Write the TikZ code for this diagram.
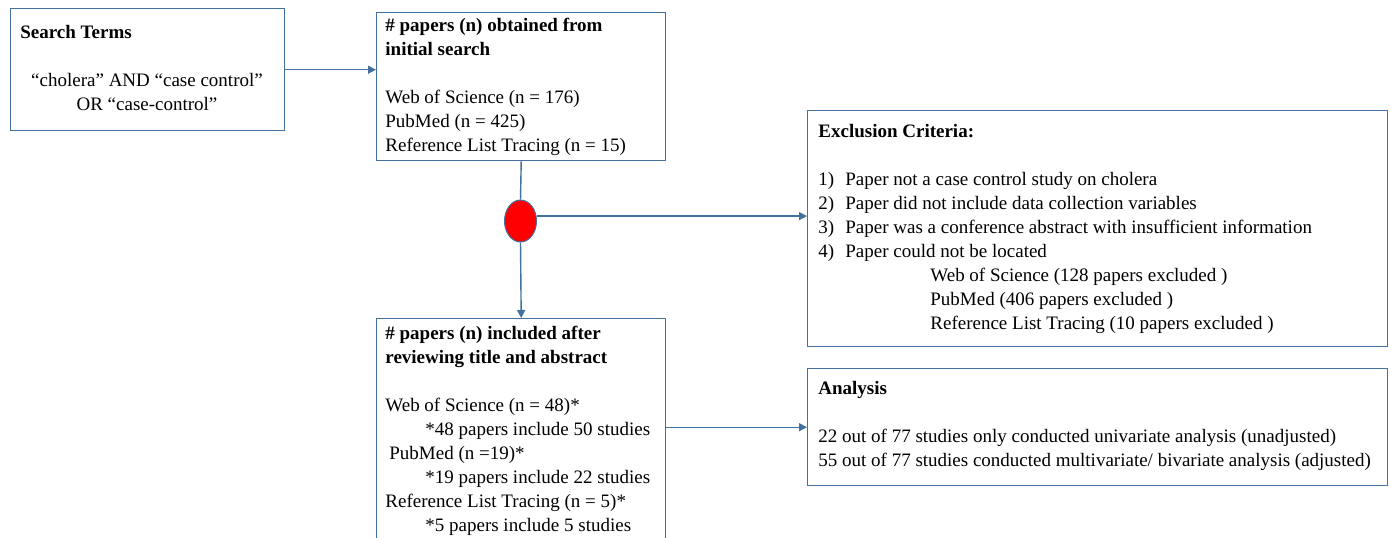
\documentclass[tikz,border=0pt]{standalone}
\usepackage{fontspec}
\setmainfont{Liberation Serif}
\usetikzlibrary{arrows.meta, positioning, shapes.geometric}
\definecolor{boxblue}{RGB}{65,113,156}

\begin{document}
\begin{tikzpicture}[
  x=0.5pt, y=-0.5pt,
  % Base style for boxes
  basebox/.style={draw=boxblue, line width=0.7pt, anchor=north west, inner sep=0pt},
  % Text inside the boxes
  boxtext/.style={anchor=north west, inner sep=0pt, align=left, font=\fontsize{9.5}{12}\selectfont},
  % Connectors
  link/.style={draw=boxblue, line width=0.7pt},
  arrow/.style={link, -{Triangle[length=4pt, width=4pt]}}
]
  \clip (0,0) rectangle (1390,537);

  % Boxes
  \node[basebox, minimum width=137pt, minimum height=61pt] (search) at (10,8) {};
  \node[basebox, minimum width=144.5pt, minimum height=74pt] (obtained) at (376,12) {};
  \node[basebox, minimum width=144.5pt, minimum height=120pt] (included) at (376,318) {};
  \node[basebox, minimum width=290pt, minimum height=118pt] (exclusion) at (807,110) {};
  \node[basebox, minimum width=290pt, minimum height=58.5pt] (analysis) at (807,368) {};

  % Screening point
  \node[ellipse, draw=boxblue, fill=red, line width=0.5pt, minimum width=16pt,
        minimum height=21pt, inner sep=0pt] (filter) at (520.5,221) {};

  % Search terms
  \node[boxtext] (search-title) at (20,25) {\textbf{Search Terms}};
  \node[boxtext, align=center, anchor=center] (search-terms) at (147,92)
    {“cholera” AND “case control”\\OR “case-control”};

  % Initial search
  \node[boxtext] (obtained-text) at (385,18) {%
    \textbf{\# papers (n) obtained from}\\
    \textbf{initial search}\\[12pt]
    Web of Science (n = 176)\\
    PubMed (n = 425)\\
    Reference List Tracing (n = 15)};

  % After title and abstract
  \node[boxtext] (included-text) at (385,326) {%
    \textbf{\# papers (n) included after}\\
    \textbf{reviewing title and abstract}\\[12pt]
    Web of Science (n = 48)*\\
    \hspace*{20pt}*48 papers include 50 studies\\
    \hspace*{2pt}PubMed (n =19)*\\
    \hspace*{20pt}*19 papers include 22 studies\\
    Reference List Tracing (n = 5)*\\
    \hspace*{20pt}*5 papers include 5 studies};

  % Exclusion criteria
  \node[boxtext] (exclusion-text) at (818,124) {%
    \textbf{Exclusion Criteria:}\\[12pt]
    \makebox[13.5pt][l]{1)}Paper not a case control study on cholera\\
    \makebox[13.5pt][l]{2)}Paper did not include data collection variables\\
    \makebox[13.5pt][l]{3)}Paper was a conference abstract with insufficient information\\
    \makebox[13.5pt][l]{4)}Paper could not be located\\
    \hspace*{56pt}Web of Science (128 papers excluded )\\
    \hspace*{56pt}PubMed (406 papers excluded )\\
    \hspace*{56pt}Reference List Tracing (10 papers excluded )};

  % Analysis
  \node[boxtext] (analysis-text) at (818,381) {%
    \textbf{Analysis}\\[12pt]
    22 out of 77 studies only conducted univariate analysis (unadjusted)\\
    55 out of 77 studies conducted multivariate/ bivariate analysis (adjusted)};

  % Connectors
  \draw[arrow] (search.east) -- (search.east -| obtained.west);
  \draw[link] (obtained.south) -- (filter.north);
  \draw[arrow] (filter.17) -- (filter.17 -| exclusion.west);
  \draw[arrow] (filter.south) -- (included.north);
  \draw[arrow] (analysis.west -| included.east) -- (analysis.west);

\end{tikzpicture}
\end{document}
